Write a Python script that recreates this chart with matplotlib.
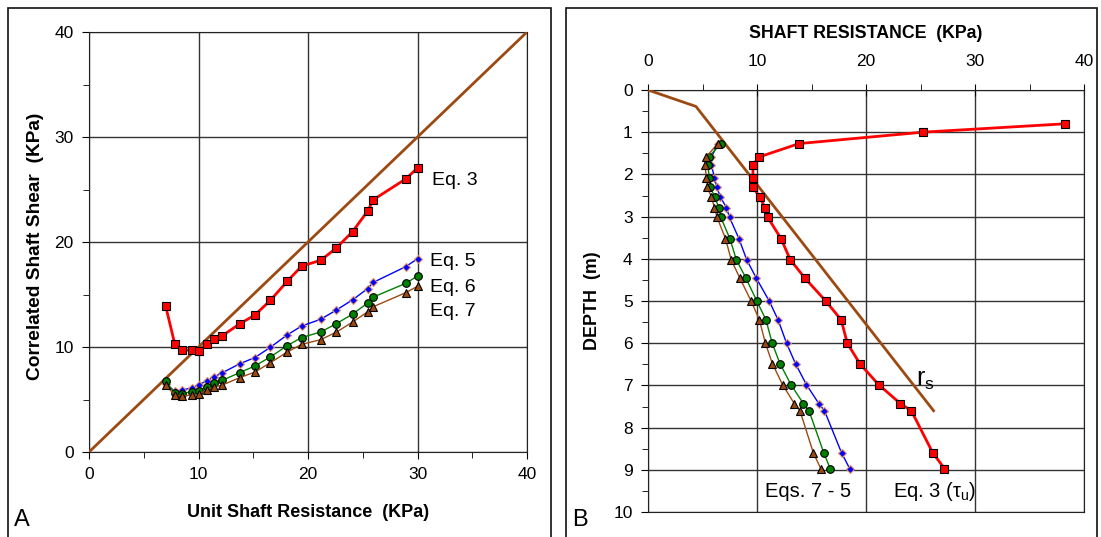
import matplotlib
matplotlib.use('Agg')
import matplotlib.pyplot as plt
from matplotlib.patches import Rectangle
from matplotlib.ticker import MultipleLocator

plt.rcParams['font.family'] = ['Liberation Sans', 'DejaVu Sans']
plt.rcParams['mathtext.fontset'] = 'custom'
plt.rcParams['mathtext.rm'] = 'Liberation Sans'
plt.rcParams['mathtext.it'] = 'Liberation Sans:italic'

# --- panel A: correlated shaft shear vs unit shaft resistance ---
unit_rs = [7.0, 7.83, 8.46, 9.38, 10.0, 10.75, 11.45, 12.18, 13.76, 15.16,
           16.56, 18.1, 19.42, 21.16, 22.56, 24.08, 25.45, 25.97, 28.92, 30.0]
eq3_corr = [13.9, 10.3, 9.7, 9.7, 9.65, 10.3, 10.76, 11.08, 12.2, 13.05,
            14.44, 16.25, 17.7, 18.26, 19.4, 21.0, 22.95, 24.03, 26.0, 27.05]
eq5_corr = [6.5, 5.78, 5.9, 6.1, 6.4, 6.76, 7.17, 7.55, 8.4, 9.0,
            9.97, 11.15, 12.0, 12.64, 13.5, 14.5, 15.56, 16.16, 17.65, 18.4]
eq6_corr = [6.76, 5.62, 5.56, 5.75, 5.84, 6.2, 6.57, 6.83, 7.56, 8.2,
            9.05, 10.13, 10.9, 11.43, 12.2, 13.14, 14.19, 14.76, 16.06, 16.76]
eq7_corr = [6.4, 5.43, 5.33, 5.43, 5.49, 5.87, 6.19, 6.38, 7.08, 7.62,
            8.5, 9.52, 10.25, 10.7, 11.4, 12.38, 13.36, 13.84, 15.17, 15.78]
one_to_one = [0, 40]

# --- panel B: shaft resistance vs depth ---
depth = [1.27, 1.59, 1.78, 2.08, 2.30, 2.54, 2.79, 3.02, 3.52, 4.02,
         4.46, 5.01, 5.45, 6.0, 6.49, 6.98, 7.43, 7.6, 8.6, 8.97]
eq3_depth = [0.8, 1.0] + depth
eq3_tau = [38.3, 25.2, 13.85, 10.16, 9.63, 9.63, 9.63, 10.25, 10.74, 10.99,
           12.2, 13.05, 14.4, 16.34, 17.73, 18.28, 19.45, 21.15, 23.15, 24.16,
           26.13, 27.2]
eq5_tau = [6.43, 5.82, 5.82, 6.1, 6.31, 6.65, 7.2, 7.48, 8.34, 9.05,
           9.94, 11.14, 11.94, 12.71, 13.54, 14.53, 15.67, 16.19, 17.76, 18.5]
eq6_tau = [6.68, 5.57, 5.48, 5.63, 5.72, 6.13, 6.5, 6.68, 7.51, 8.1,
           8.99, 10.0, 10.83, 11.39, 12.12, 13.11, 14.25, 14.77, 16.13, 16.71]
eq7_tau = [6.4, 5.33, 5.23, 5.36, 5.45, 5.82, 6.1, 6.34, 7.11, 7.63,
           8.43, 9.48, 10.22, 10.77, 11.42, 12.34, 13.42, 13.94, 15.17, 15.85]
rs_x = [0, 4.4, 26.2]
rs_depth = [0, 0.39, 7.6]

BROWN = '#9C4A12'
GRID = '#333333'
TICK_FS = 12.5

fig = plt.figure(figsize=(11.01, 5.37), dpi=100)

# panel frames
fig.patches.append(Rectangle((8 / 1101, -0.01), 543 / 1101, 1 - 8 / 537 + 0.01,
                             transform=fig.transFigure, fill=False,
                             edgecolor='#111111', lw=1.2))
fig.patches.append(Rectangle((566 / 1101, -0.01), 531 / 1101, 1 - 8 / 537 + 0.01,
                             transform=fig.transFigure, fill=False,
                             edgecolor='#111111', lw=1.2))

# ---------------- panel A ----------------
ax1 = fig.add_axes([89 / 1101, 1 - 452 / 537, 438 / 1101, 420 / 537])
ax1.plot(one_to_one, one_to_one, color=BROWN, lw=2, zorder=3)
ax1.plot(unit_rs, eq3_corr, color='red', lw=2, marker='s', ms=5.5,
         mfc='red', mec='black', mew=0.8, zorder=4)
ax1.plot(unit_rs, eq5_corr, color='blue', lw=1, marker='D', ms=4,
         mfc='blue', mec='#E0956A', mew=0.8, zorder=4)
ax1.plot(unit_rs, eq6_corr, color='green', lw=1, marker='o', ms=5.5,
         mfc='green', mec='black', mew=0.8, zorder=4)
ax1.plot(unit_rs, eq7_corr, color=BROWN, lw=1, marker='^', ms=6,
         mfc=BROWN, mec='black', mew=0.8, zorder=4)

ax1.set_xlim(0, 40)
ax1.set_ylim(0, 40)
ax1.xaxis.set_major_locator(MultipleLocator(10))
ax1.xaxis.set_minor_locator(MultipleLocator(5))
ax1.yaxis.set_major_locator(MultipleLocator(10))
ax1.yaxis.set_minor_locator(MultipleLocator(5))
ax1.tick_params(which='major', direction='out', length=5, labelsize=TICK_FS, pad=6)
ax1.tick_params(which='minor', direction='out', length=4)
ax1.grid(which='major', color=GRID, lw=1)
for sp in ax1.spines.values():
    sp.set_color('#222222')

ax1.text(0.5, -0.143, 'Unit Shaft Resistance  (KPa)', transform=ax1.transAxes,
         ha='center', va='center', fontsize=13, fontweight='bold')
ax1.text(-0.123, 0.49, 'Correlated Shaft Shear  (KPa)', transform=ax1.transAxes,
         ha='center', va='center', rotation=90, fontsize=13.8, fontweight='bold')

ax1.text(31.3, 25.9, 'Eq. 3', fontsize=14, va='center')
ax1.text(31.1, 18.1, 'Eq. 5', fontsize=14, va='center')
ax1.text(31.1, 15.7, 'Eq. 6', fontsize=14, va='center')
ax1.text(31.1, 13.4, 'Eq. 7', fontsize=14, va='center')

# ---------------- panel B ----------------
ax2 = fig.add_axes([648 / 1101, 1 - 512 / 537, 436 / 1101, 422 / 537])
ax2.plot(rs_x, rs_depth, color=BROWN, lw=2, zorder=3)
ax2.plot(eq3_tau, eq3_depth, color='red', lw=2, marker='s', ms=5.5,
         mfc='red', mec='black', mew=0.8, zorder=4)
ax2.plot(eq5_tau, depth, color='blue', lw=1, marker='D', ms=4,
         mfc='blue', mec='#E0956A', mew=0.8, zorder=4)
ax2.plot(eq6_tau, depth, color='green', lw=1, marker='o', ms=5.5,
         mfc='green', mec='black', mew=0.8, zorder=4)
ax2.plot(eq7_tau, depth, color=BROWN, lw=1, marker='^', ms=6,
         mfc=BROWN, mec='black', mew=0.8, zorder=4)

ax2.set_xlim(0, 40)
ax2.set_ylim(10, 0)
ax2.xaxis.tick_top()
ax2.xaxis.set_major_locator(MultipleLocator(10))
ax2.xaxis.set_minor_locator(MultipleLocator(5))
ax2.yaxis.set_major_locator(MultipleLocator(1))
ax2.yaxis.set_minor_locator(MultipleLocator(0.5))
ax2.tick_params(axis='x', which='major', direction='inout', length=8,
                labelsize=TICK_FS, pad=11)
ax2.tick_params(axis='y', which='major', direction='out', length=5,
                labelsize=TICK_FS, pad=6)
ax2.tick_params(which='minor', direction='out', length=4)
ax2.grid(which='major', color=GRID, lw=1)
for sp in ax2.spines.values():
    sp.set_color('#222222')

ax2.text(0.5, 1.135, 'SHAFT RESISTANCE  (KPa)', transform=ax2.transAxes,
         ha='center', va='center', fontsize=12.8, fontweight='bold')
ax2.text(-0.128, 0.5, 'DEPTH  (m)', transform=ax2.transAxes,
         ha='center', va='center', rotation=90, fontsize=12.9, fontweight='bold')

ax2.text(24.6, 7.0, r'r$_\mathregular{s}$', fontsize=18, va='baseline')
ax2.text(10.7, 9.52, 'Eqs. 7 - 5', fontsize=14.5, va='center')
ax2.text(22.5, 9.52, r'Eq. 3 ($\mathregular{\tau_u}$)', fontsize=14.5, va='center')

# panel letters
fig.text(14 / 1101, 1 - 520 / 537, 'A', fontsize=17, va='center')
fig.text(572 / 1101, 1 - 520 / 537, 'B', fontsize=17, va='center')

plt.savefig('out.png', dpi=100)
plt.close()
